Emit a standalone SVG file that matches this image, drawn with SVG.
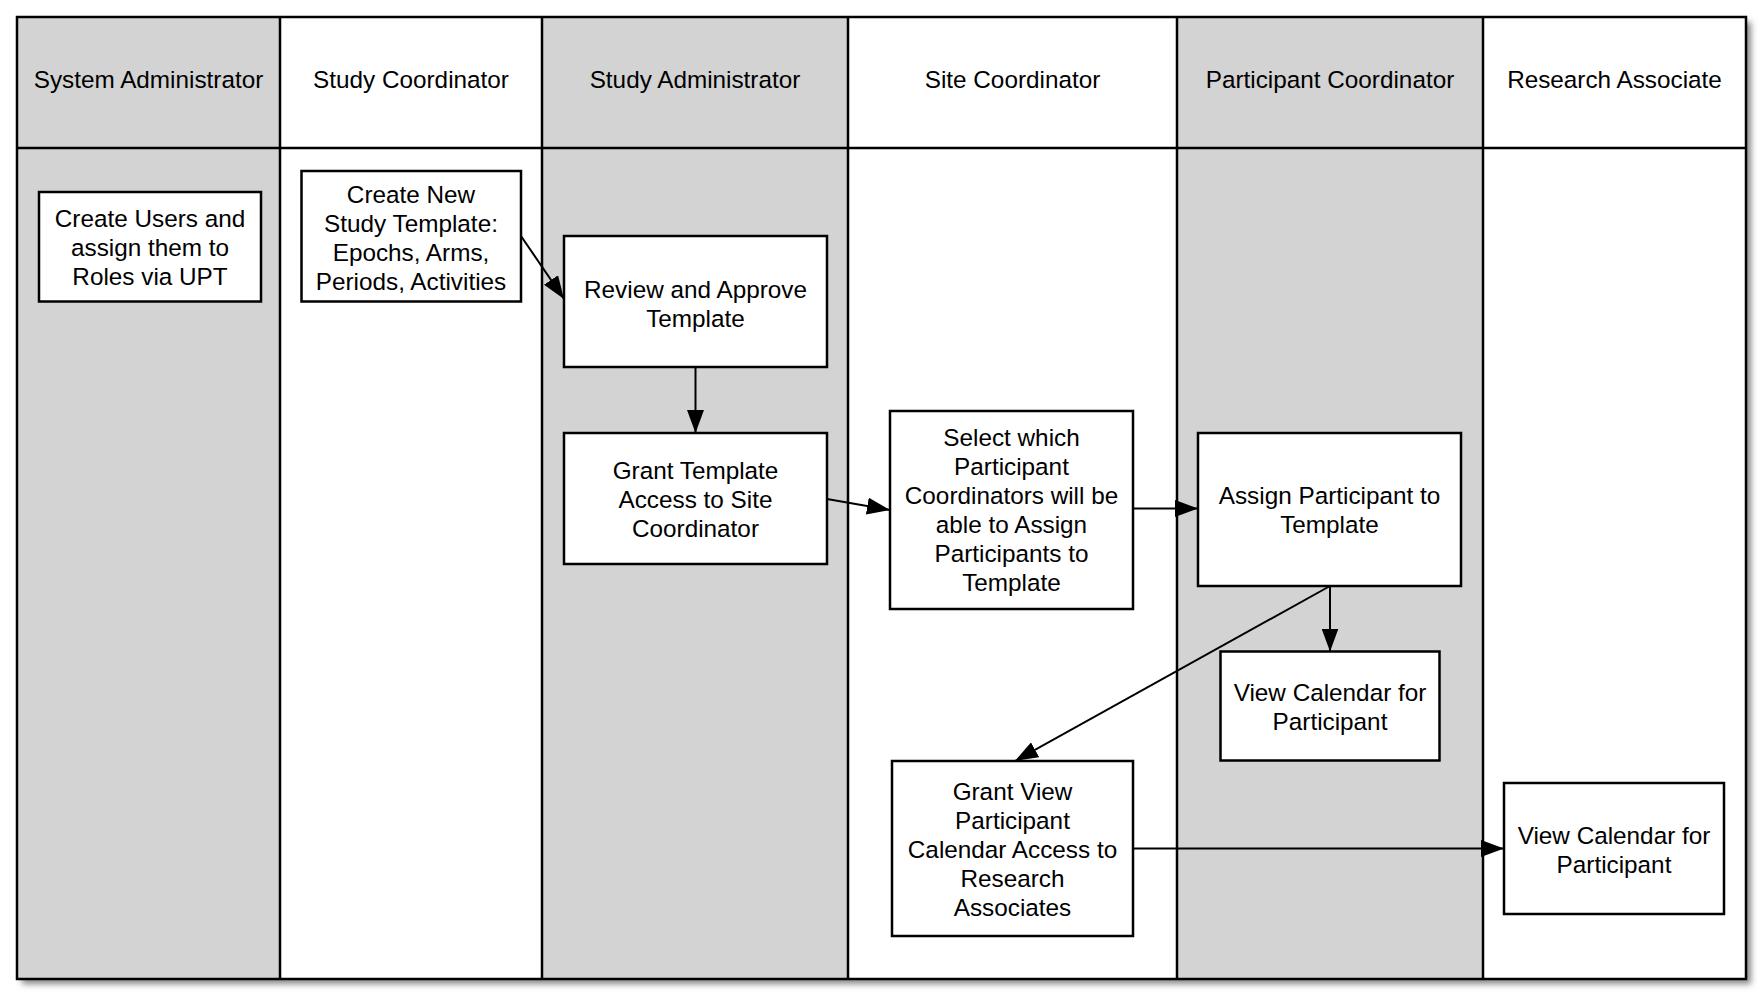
<svg xmlns="http://www.w3.org/2000/svg" width="1764" height="998" viewBox="0 0 1764 998">
<style>
.lane-g{fill:#d3d3d3;stroke:none}
.lane-w{fill:#ffffff;stroke:none}
.grid{stroke:#000;stroke-width:2.5;fill:none}
.node{fill:#fff;stroke:#000;stroke-width:2.5}
.t{font-family:"Liberation Sans",Arial,Helvetica,sans-serif;font-size:24.3px;fill:#000;text-anchor:middle}
.conn{stroke:#000;stroke-width:2;fill:none;marker-end:url(#arr)}
</style>
<defs>
<marker id="arr" markerUnits="userSpaceOnUse" markerWidth="23" markerHeight="17" refX="23" refY="8.5" orient="auto">
<path d="M0,0 L23,8.5 L0,17 Z" fill="#000"/>
</marker>
<filter id="sh" x="-5%" y="-5%" width="110%" height="110%">
<feGaussianBlur stdDeviation="3"/>
</filter>
</defs>
<rect width="1764" height="998" fill="#fff"/>
<rect x="22" y="22" width="1729" height="962" fill="#888" filter="url(#sh)"/>
<g id="lanes">
<rect class="lane-g" x="17" y="17" width="263" height="962"/>
<rect class="lane-w" x="280" y="17" width="262" height="962"/>
<rect class="lane-g" x="542" y="17" width="306" height="962"/>
<rect class="lane-w" x="848" y="17" width="329" height="962"/>
<rect class="lane-g" x="1177" y="17" width="306" height="962"/>
<rect class="lane-w" x="1483" y="17" width="263" height="962"/>
<rect class="grid" x="17" y="17" width="1729" height="962"/>
<path class="grid" d="M17,148 H1746 M280,17 V979 M542,17 V979 M848,17 V979 M1177,17 V979 M1483,17 V979"/>
<text class="t" x="148.5" y="88">System Administrator</text>
<text class="t" x="411" y="88">Study Coordinator</text>
<text class="t" x="695" y="88">Study Administrator</text>
<text class="t" x="1012.5" y="88">Site Coordinator</text>
<text class="t" x="1330" y="88">Participant Coordinator</text>
<text class="t" x="1614.5" y="88">Research Associate</text>
</g>
<g id="n1">
<rect class="node" x="39" y="192" width="222" height="109.5"/>
<text class="t" x="150" y="226.5">Create Users and</text>
<text class="t" x="150" y="255.5">assign them to</text>
<text class="t" x="150" y="284.5">Roles via UPT</text>
</g>
<g id="n2">
<rect class="node" x="301.5" y="171" width="219.5" height="130.5"/>
<text class="t" x="411" y="203">Create New</text>
<text class="t" x="411" y="232">Study Template:</text>
<text class="t" x="411" y="261">Epochs, Arms,</text>
<text class="t" x="411" y="290">Periods, Activities</text>
</g>
<g id="n3">
<rect class="node" x="564" y="236" width="263" height="131"/>
<text class="t" x="695.5" y="298">Review and Approve</text>
<text class="t" x="695.5" y="327">Template</text>
</g>
<g id="n4">
<rect class="node" x="564" y="433" width="263" height="131"/>
<text class="t" x="695.5" y="479">Grant Template</text>
<text class="t" x="695.5" y="508">Access to Site</text>
<text class="t" x="695.5" y="537">Coordinator</text>
</g>
<g id="n5">
<rect class="node" x="890" y="411" width="243" height="198"/>
<text class="t" x="1011.5" y="446">Select which</text>
<text class="t" x="1011.5" y="475">Participant</text>
<text class="t" x="1011.5" y="504">Coordinators will be</text>
<text class="t" x="1011.5" y="533">able to Assign</text>
<text class="t" x="1011.5" y="562">Participants to</text>
<text class="t" x="1011.5" y="591">Template</text>
</g>
<g id="n6">
<rect class="node" x="1198" y="433" width="263" height="153"/>
<text class="t" x="1329.5" y="504">Assign Participant to</text>
<text class="t" x="1329.5" y="533">Template</text>
</g>
<g id="n7">
<rect class="node" x="1220.5" y="651.5" width="219" height="109"/>
<text class="t" x="1330" y="700.5">View Calendar for</text>
<text class="t" x="1330" y="729.5">Participant</text>
</g>
<g id="n8">
<rect class="node" x="892" y="761" width="241" height="175"/>
<text class="t" x="1012.5" y="800">Grant View</text>
<text class="t" x="1012.5" y="829">Participant</text>
<text class="t" x="1012.5" y="858">Calendar Access to</text>
<text class="t" x="1012.5" y="887">Research</text>
<text class="t" x="1012.5" y="916">Associates</text>
</g>
<g id="n9">
<rect class="node" x="1504" y="783" width="220" height="131"/>
<text class="t" x="1614" y="843.5">View Calendar for</text>
<text class="t" x="1614" y="872.5">Participant</text>
</g>
<g id="connectors">
<path class="conn" d="M521,236 L564,299"/>
<path class="conn" d="M695.5,367 L695.5,433"/>
<path class="conn" d="M827,499 L890,510"/>
<path class="conn" d="M1133,508.5 L1198,508.5"/>
<path class="conn" d="M1330,586 L1330,651.5"/>
<path class="conn" d="M1330,586 L1015,761"/>
<path class="conn" d="M1133,848.5 L1504,848.5"/>
</g>
</svg>
